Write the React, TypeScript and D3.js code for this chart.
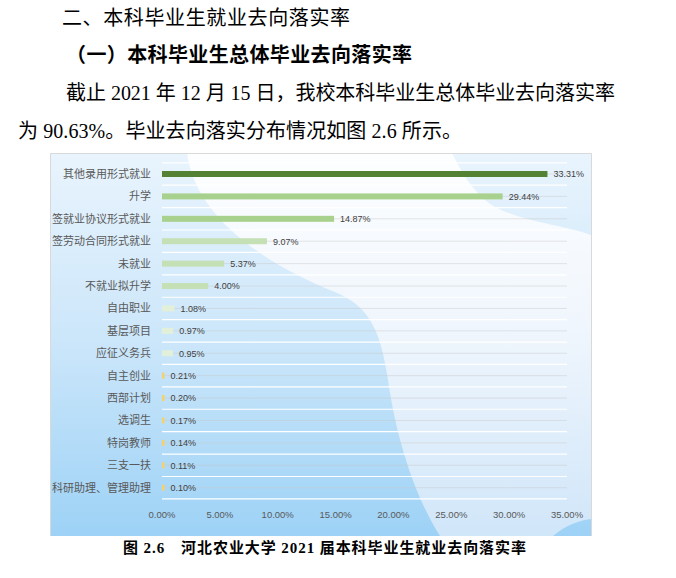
import React from "react";
import * as d3 from "d3";

const categories = [
  "其他录用形式就业",
  "升学",
  "签就业协议形式就业",
  "签劳动合同形式就业",
  "未就业",
  "不就业拟升学",
  "自由职业",
  "基层项目",
  "应征义务兵",
  "自主创业",
  "西部计划",
  "选调生",
  "特岗教师",
  "三支一扶",
  "科研助理、管理助理",
];
const values = [33.31, 29.44, 14.87, 9.07, 5.37, 4.0, 1.08, 0.97, 0.95, 0.21, 0.2, 0.17, 0.14, 0.11, 0.1];
const xTicks = [0, 5, 10, 15, 20, 25, 30, 35];
const barColors = [
  "#548235", "#A9D18E", "#A9D18E", "#C5E0B4", "#C5E0B4", "#C5E0B4",
  "#E2F0D9", "#E2F0D9", "#E2F0D9",
  "#F6D16A", "#F6D16A", "#F6D16A", "#F6D16A", "#F6D16A", "#F6D16A",
];

const W = 676;
const H = 578;

export default function App() {
  const x = d3.scaleLinear().domain([0, 35]).range([162, 567]);
  const y = d3.scaleBand<string>().domain(categories).range([162.8, 498.9]).padding(0);
  const bw = y.bandwidth();
  const fmt = (v: number) => v.toFixed(2) + "%";
  const barH = 6;

  const body = "'Liberation Serif', 'Noto Sans CJK SC', serif";
  const cjk = "'Noto Sans CJK SC', sans-serif";

  return (
    <svg width={W} height={H} style={{ position: "absolute", left: 0, top: 0, background: "#fff" }}>
      <defs>
        <linearGradient id="bgBase" x1="0" y1="0" x2="0" y2="1">
          <stop offset="0%" stopColor="#e9f4fd" />
          <stop offset="50%" stopColor="#cbe6fa" />
          <stop offset="100%" stopColor="#9dd2f6" />
        </linearGradient>
        <linearGradient id="bgWhite" x1="0" y1="0" x2="0" y2="1">
          <stop offset="0%" stopColor="#fdfeff" />
          <stop offset="45%" stopColor="#f0f6fd" />
          <stop offset="100%" stopColor="#d0e6f9" />
        </linearGradient>
      </defs>

      {/* header text */}
      <text x={62} y={25} fontSize={20} fontFamily={cjk} fill="#000" textLength={288} lengthAdjust="spacing">
        二、本科毕业生就业去向落实率
      </text>
      <text x={66} y={62} fontSize={20} fontWeight="bold" fontFamily={cjk} fill="#000" textLength={346} lengthAdjust="spacing">
        （一）本科毕业生总体毕业去向落实率
      </text>
      <text x={66} y={100} fontSize={20} fontFamily={body} fill="#000" textLength={549} lengthAdjust="spacing">
        截止 2021 年 12 月 15 日，我校本科毕业生总体毕业去向落实率
      </text>
      <text x={18} y={138} fontSize={20} fontFamily={body} fill="#000" textLength={444} lengthAdjust="spacing">
        为 90.63%。毕业去向落实分布情况如图 2.6 所示。
      </text>

      {/* chart background */}
      <rect x={50} y={153} width={542} height={383} fill="url(#bgBase)" />
      <path
        d="M187,153 C195,215 260,262 335,292 C372,307 381,335 388,380 C398,450 420,505 440,536 L553,536 C566,525 580,520 592,519 L592,236 C575,226 510,222 485,200 C468,185 458,165 452,153 Z"
        fill="url(#bgWhite)"
      />
      <path d="M50.5,536 L50.5,153.5 L591.5,153.5 L591.5,536" fill="none" stroke="#d9d9d9" strokeWidth={1} />

      {/* gridlines */}
      {d3.range(categories.length + 1).map((i) => {
        const yy = 162.8 + i * bw;
        return <line key={"w" + i} x1={162} x2={567} y1={yy} y2={yy} stroke="#ffffff" strokeWidth={1.2} />;
      })}
      {categories.map((c) => {
        const yy = (y(c) as number) + bw / 2;
        return <line key={"g" + c} x1={162} x2={567} y1={yy} y2={yy} stroke="#c8c8c8" strokeOpacity={0.45} strokeWidth={1} />;
      })}

      {/* bars */}
      {categories.map((c, i) => {
        const cy = (y(c) as number) + bw / 2;
        const w = Math.max(2.5, x(values[i]) - x(0));
        return (
          <g key={c}>
            <rect x={x(0)} y={cy - barH / 2} width={w} height={barH} fill={barColors[i]} />
            <text
              x={x(0) - 11}
              y={cy + 4}
              fontSize={11}
              fontFamily={cjk}
              fill="#595959"
              textAnchor="end"
            >
              {c}
            </text>
            <text
              x={x(0) + w + 6}
              y={cy + 3.3}
              fontSize={9}
              fontFamily="'Liberation Sans', sans-serif"
              fill="#404040"
            >
              {fmt(values[i])}
            </text>
          </g>
        );
      })}

      {/* x axis labels */}
      {xTicks.map((t) => (
        <text
          key={t}
          x={x(t)}
          y={517.5}
          fontSize={9.5}
          fontFamily="'Liberation Sans', sans-serif"
          fill="#595959"
          textAnchor="middle"
        >
          {fmt(t)}
        </text>
      ))}

      {/* caption */}
      <text x={123} y={553} fontSize={15} fontWeight="bold" fontFamily={body} fill="#000" textLength={403} lengthAdjust="spacing">
        图 2.6　河北农业大学 2021 届本科毕业生就业去向落实率
      </text>
    </svg>
  );
}
